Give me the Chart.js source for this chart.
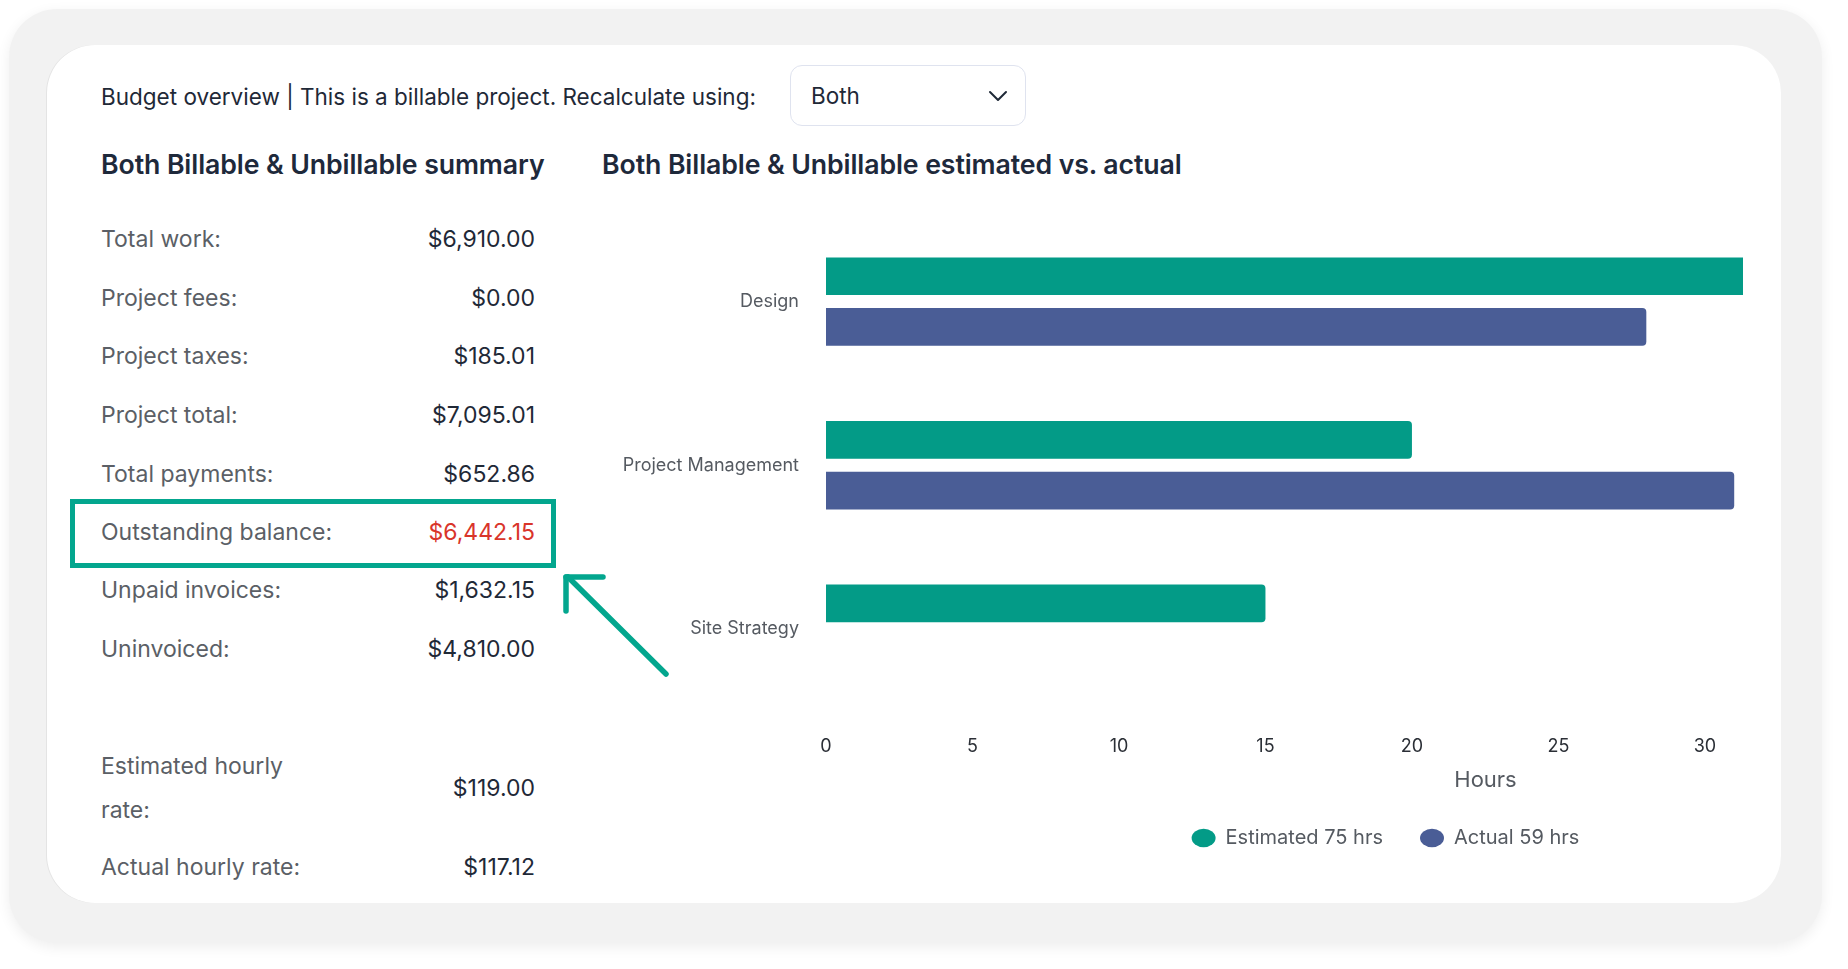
<!DOCTYPE html>
<html lang="en">
<head>
<meta charset="UTF-8">
<title>Budget overview</title>
<script src="https://cdn.jsdelivr.net/npm/chart.js@4"></script>
<style>
  html, body { margin: 0; padding: 0; width: 1848px; height: 969px; background: #fff; overflow: hidden;
    font-family: Inter, "Noto Sans", sans-serif; }
  .outer { position: absolute; left: 9px; top: 9px; width: 1813px; height: 934px; background: #f2f2f2;
    border-radius: 48px; box-shadow: 0 4px 14px rgba(0,0,0,0.07); }
  .card { position: absolute; left: 47px; top: 45px; width: 1734px; height: 858px; background: #fff;
    border-radius: 48px; box-shadow: -1px 0 0 #e4e4e4; }
  .head { position: absolute; left: 101px; top: 82px; line-height: 30px; font-size: 22.5px; color: #1f2937; }
  .select { position: absolute; left: 790px; top: 65px; width: 234px; height: 59px; border: 1.5px solid #dfe3ef;
    border-radius: 12px; box-sizing: content-box; }
  .select span { position: absolute; left: 20px; top: 15px; line-height: 30px; font-size: 22.5px; color: #1f2937; }
  .select svg { position: absolute; left: 197px; top: 24px; }
  .sub { position: absolute; top: 148px; line-height: 32px; font-size: 26.7px; font-weight: 600; color: #1e293b;
    letter-spacing: -0.1px; }
  .row { position: absolute; left: 101px; width: 434px; display: flex; justify-content: space-between;
    align-items: center; font-size: 23px; }
  .row .k { color: #5b5f66; line-height: 44px; }
  .row .v { color: #1f2937; }
  .row .v.red { color: #d9352a; }
  .hl { position: absolute; left: 70px; top: 499px; width: 476px; height: 59px; border: 5px solid #03a68e; }
  #arrow { position: absolute; left: 0; top: 0; }
  .chartbox { position: absolute; left: 600px; top: 182px; width: 1160px; height: 688px; }
</style>
</head>
<body>
<div class="outer"></div>
<div class="card"></div>

<div class="head">Budget overview | This is a billable project. Recalculate using:</div>
<div class="select"><span>Both</span>
  <svg width="20" height="12" viewBox="0 0 20 12"><polyline points="2,2 10,10 18,2" fill="none" stroke="#1f2937" stroke-width="2" stroke-linecap="round" stroke-linejoin="round"/></svg>
</div>

<div class="sub" style="left:101px">Both Billable &amp; Unbillable summary</div>
<div class="sub" style="left:602px">Both Billable &amp; Unbillable estimated vs. actual</div>

<div id="rows"></div>
<div class="hl"></div>
<svg id="arrow" width="1848" height="969">
  <g stroke="#03a68e" stroke-width="5.5" stroke-linecap="round" fill="none">
    <line x1="666" y1="674" x2="568" y2="577"/>
    <line x1="566" y1="577" x2="603" y2="577"/>
    <line x1="566" y1="577" x2="566" y2="611"/>
  </g>
</svg>

<div class="chartbox"><canvas id="hoursChart"></canvas></div>

<script>
// summary panel
const summaryLabels = ['Total work:', 'Project fees:', 'Project taxes:', 'Project total:', 'Total payments:',
  'Outstanding balance:', 'Unpaid invoices:', 'Uninvoiced:'];
const summaryValues = ['$6,910.00', '$0.00', '$185.01', '$7,095.01', '$652.86', '$6,442.15', '$1,632.15', '$4,810.00'];
const rateLabels = ['Estimated hourly<br>rate:', 'Actual hourly rate:'];
const rateValues = ['$119.00', '$117.12'];

// chart data
const categories = ['Design', 'Project Management', 'Site Strategy'];
const estimatedHours = [40, 20, 15];
const actualHours = [28, 31, 0];
const xTicks = [0, 5, 10, 15, 20, 25, 30];

const rowTops = [217, 276, 334, 393, 452, 510, 568, 627];
const rows = document.getElementById('rows');
summaryLabels.forEach((lab, i) => {
  const d = document.createElement('div');
  d.className = 'row';
  d.style.top = rowTops[i] + 'px';
  d.innerHTML = '<span class="k">' + lab + '</span><span class="v' + (i === 5 ? ' red' : '') + '">' + summaryValues[i] + '</span>';
  rows.appendChild(d);
});
[744, 845].forEach((t, i) => {
  const d = document.createElement('div');
  d.className = 'row';
  d.style.top = t + 'px';
  d.innerHTML = '<span class="k">' + rateLabels[i] + '</span><span class="v">' + rateValues[i] + '</span>';
  rows.appendChild(d);
});

const sum = a => a.reduce((s, v) => s + v, 0);

// legend / axis title sit right of centre in the original
const shiftBoxes = {
  id: 'shiftBoxes',
  afterLayout(chart) {
    chart.legend.left += 214; chart.legend.right += 214;
    chart.titleBlock.left += 314; chart.titleBlock.right += 314;
  }
};

new Chart(document.getElementById('hoursChart'), {
  type: 'bar',
  data: {
    labels: categories,
    datasets: [
      { label: `Estimated ${sum(estimatedHours)} hrs`, data: estimatedHours, backgroundColor: '#039b87',
        borderRadius: 4, categoryPercentage: 0.62, barPercentage: 0.744, clip: 0 },
      { label: `Actual ${sum(actualHours)} hrs`, data: actualHours, backgroundColor: '#4a5d96',
        borderRadius: 4, categoryPercentage: 0.62, barPercentage: 0.744, clip: 0 }
    ]
  },
  options: {
    indexAxis: 'y',
    responsive: true,
    maintainAspectRatio: false,
    animation: false,
    layout: { padding: { top: 0, right: 17, bottom: 12, left: 0 } },
    scales: {
      x: {
        min: 0, max: 31.3,
        grid: { display: false, drawTicks: false },
        border: { display: false },
        afterBuildTicks: s => { s.ticks = xTicks.map(v => ({ value: v })); },
        afterFit: s => { s.height = 44.4; },
        ticks: { color: '#2b2f36', padding: 25, font: { family: 'Inter', size: 18, lineHeight: 1.2 } }
      },
      y: {
        grid: { display: false, drawTicks: false },
        border: { display: false },
        afterFit: s => { s.width = 226; },
        ticks: { color: '#555a61', padding: 27, font: { family: 'Inter', size: 18 } }
      }
    },
    plugins: {
      title: {
        display: true, position: 'bottom', text: 'Hours', color: '#555a61', weight: 500,
        padding: { top: 14, bottom: 0 }, font: { family: 'Inter', size: 22, weight: 'normal', lineHeight: 1 }
      },
      legend: {
        position: 'bottom',
        labels: {
          usePointStyle: true, pointStyle: 'circle', boxHeight: 13, boxWidth: 13, pointStyleWidth: 24,
          padding: 37, color: '#555a61', font: { family: 'Inter', size: 20 }
        }
      },
      tooltip: { enabled: false }
    }
  },
  plugins: [shiftBoxes]
});
</script>
</body>
</html>
